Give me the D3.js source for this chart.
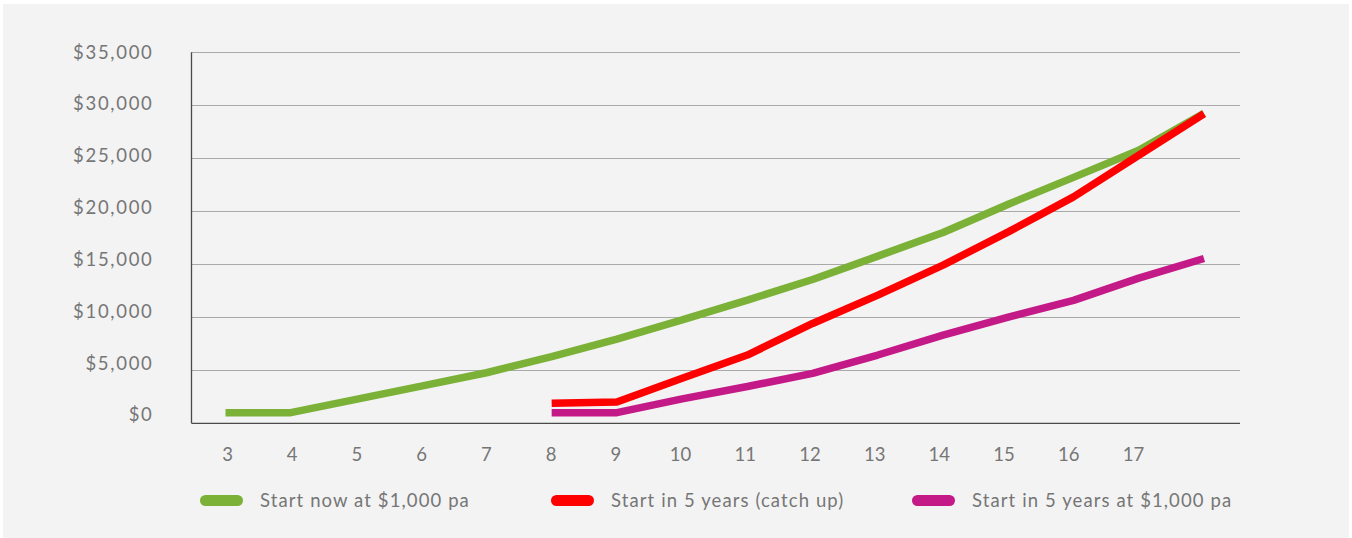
<!DOCTYPE html>
<html>
<head>
<meta charset="utf-8">
<script src="https://cdn.jsdelivr.net/npm/d3@7"></script>
<style>
  html, body { margin: 0; padding: 0; background: #ffffff; }
  svg { display: block; }
  text { font-family: Lato, "Open Sans", sans-serif; fill: #767676; }
</style>
</head>
<body>
<svg id="chart" width="1352" height="538"></svg>
<script>
// Years on the horizontal axis
const years = [3, 4, 5, 6, 7, 8, 9, 10, 11, 12, 13, 14, 15, 16, 17, 18];
const tickYears = [3, 4, 5, 6, 7, 8, 9, 10, 11, 12, 13, 14, 15, 16, 17];
const yTicks = [0, 5000, 10000, 15000, 20000, 25000, 30000, 35000];

// Balance for each scenario (null where the scenario has not started)
const startNow = [1000, 1000, 2250, 3500, 4770, 6280, 7950, 9750, 11620, 13570, 15770, 18000, 20670, 23200, 25760, 29250];
const catchUp  = [null, null, null, null, null, 1880, 2000, 4250, 6440, 9420, 12090, 14920, 18060, 21360, 25290, 29200];
const lateFlat = [null, null, null, null, null, 1000, 1000, 2300, 3470, 4710, 6440, 8320, 10020, 11600, 13700, 15550];

const seriesNames  = ["Start now at $1,000 pa", "Start in 5 years (catch up)", "Start in 5 years at $1,000 pa"];
const seriesColors = ["#7bb136", "#ff0000", "#c41a87"];
const seriesValues = [startNow, catchUp, lateFlat];

const svg = d3.select("#chart");

// panel background
svg.append("rect")
  .attr("x", 3).attr("y", 4)
  .attr("width", 1346).attr("height", 534)
  .attr("fill", "#f3f3f3");

const x = d3.scaleLinear().domain([3, 18]).range([225.5, 1204]);
const y = d3.scaleLinear().domain([0, 35000]).range([423.3, 52.3]);

// label positions for the axes
const xLabel = d3.scaleLinear().domain([3, 17]).range([227, 1133]);
const yLabel = d3.scaleLinear().domain([0, 35000]).range([415, 52.2]);

const plotLeft = 191.5, plotRight = 1240;

// horizontal gridlines
svg.append("g")
  .selectAll("line")
  .data(yTicks.filter(d => d > 0))
  .join("line")
  .attr("x1", plotLeft).attr("x2", plotRight)
  .attr("y1", d => Math.round(y(d)) + 0.5).attr("y2", d => Math.round(y(d)) + 0.5)
  .attr("stroke", "#a9a9a9").attr("stroke-width", 1);

// y axis labels
const yAxis = d3.axisLeft(yLabel)
  .tickValues(yTicks)
  .tickSize(0)
  .tickPadding(0)
  .tickFormat(d => "$" + d3.format(",")(d));
svg.append("g")
  .attr("transform", "translate(153.5,0)")
  .call(yAxis)
  .call(g => g.select(".domain").remove())
  .call(g => g.selectAll("text")
    .style("font-size", "18.5px")
    .style("letter-spacing", "1.7px")
    .attr("fill", "#767676"));

// x axis labels
const xAxis = d3.axisBottom(xLabel)
  .tickValues(tickYears)
  .tickSize(0)
  .tickPadding(0)
  .tickFormat(d3.format("d"));
svg.append("g")
  .attr("transform", "translate(0,448)")
  .call(xAxis)
  .call(g => g.select(".domain").remove())
  .call(g => g.selectAll("text")
    .style("font-size", "18.5px")
    .attr("fill", "#767676"));

// lines
const line = d3.line()
  .defined(d => d.v != null)
  .x(d => x(d.year))
  .y(d => y(d.v));

seriesValues.forEach((vals, i) => {
  svg.append("path")
    .datum(years.map((year, j) => ({ year, v: vals[j] })))
    .attr("fill", "none")
    .attr("stroke", seriesColors[i])
    .attr("stroke-width", 7.5)
    .attr("stroke-linejoin", "bevel")
    .attr("stroke-linecap", "butt")
    .attr("d", line);
});

// axis lines
svg.append("line")
  .attr("x1", plotLeft).attr("x2", plotLeft)
  .attr("y1", y(35000)).attr("y2", y(0))
  .attr("stroke", "#4a4a4a").attr("stroke-width", 1.3);
svg.append("line")
  .attr("x1", plotLeft).attr("x2", plotRight)
  .attr("y1", y(0)).attr("y2", y(0))
  .attr("stroke", "#4a4a4a").attr("stroke-width", 1.3);

// legend
const legendX = [200, 551, 912];
const legend = svg.append("g");
seriesNames.forEach((name, i) => {
  const g = legend.append("g").attr("transform", `translate(${legendX[i]},500.5)`);
  g.append("rect")
    .attr("x", 0).attr("y", -5.5)
    .attr("width", 43).attr("height", 11)
    .attr("rx", 5.5)
    .attr("fill", seriesColors[i]);
  g.append("text")
    .attr("x", 60).attr("y", 6.5)
    .style("font-size", "18.5px")
    .style("letter-spacing", "1.1px")
    .attr("fill", "#767676")
    .text(name);
});
</script>
</body>
</html>
